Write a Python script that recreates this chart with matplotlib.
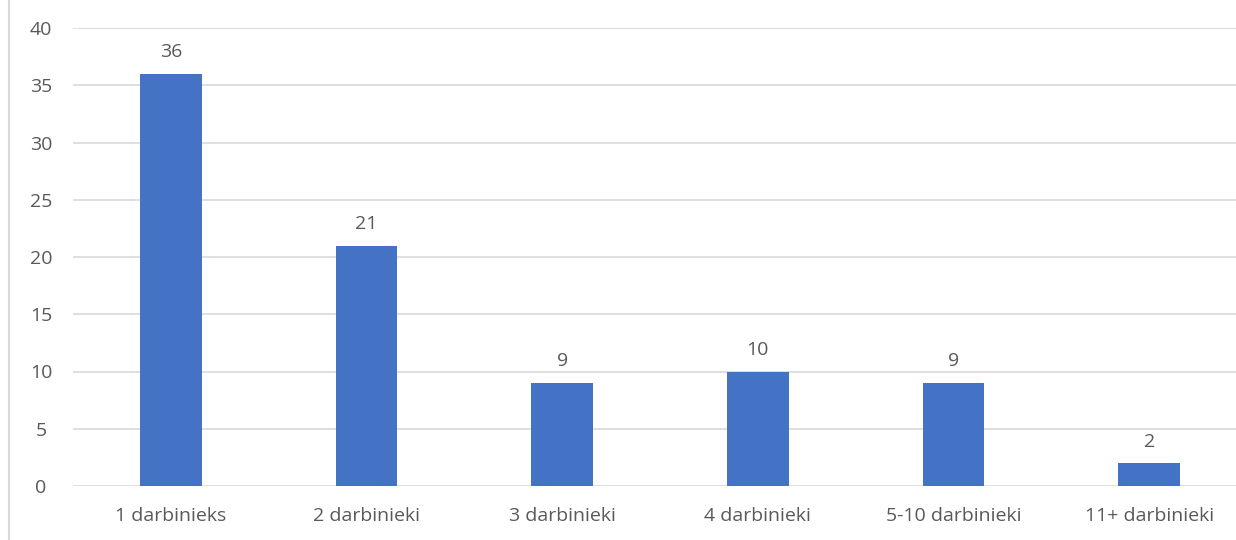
import numpy as np
import matplotlib.pyplot as plt
from matplotlib.lines import Line2D

categories = ['1 darbinieks', '2 darbinieki', '3 darbinieki', '4 darbinieki', '5-10 darbinieki', '11+ darbinieki']
values = [36, 21, 9, 10, 9, 2]
y_ticks = [0, 5, 10, 15, 20, 25, 30, 35, 40]

plt.rcParams['font.family'] = ['Open Sans', 'DejaVu Sans']
text_color = '#595959'

fig = plt.figure(figsize=(12.36, 5.40), dpi=100)
ax = fig.add_axes([73 / 1236, 54 / 540, (1247 - 73) / 1236, (486 - 28) / 540])

x = np.arange(len(categories))
bars = ax.bar(x, values, width=0.316, color='#4472C4', zorder=3)
for b, v in zip(bars, values):
    ax.text(b.get_x() + b.get_width() / 2, v + 1.1, str(v), ha='center', va='bottom',
            fontsize=14, color=text_color)

ax.set_xlim(-0.5, len(categories) - 0.5)
ax.set_ylim(0, 40)
ax.set_yticks(y_ticks)
ax.set_xticks(x)
ax.set_xticklabels(categories)
ax.tick_params(axis='both', length=0, labelsize=14, colors=text_color)
ax.tick_params(axis='y', pad=23)
ax.tick_params(axis='x', pad=15)
for lbl in ax.get_yticklabels():
    lbl.set_horizontalalignment('center')
ax.grid(axis='y', color='#D9D9D9', linewidth=1.2, zorder=0)
for s in ax.spines.values():
    s.set_visible(False)

# left edge of the chart frame
fig.lines.append(Line2D([9 / 1236, 9 / 1236], [0, 1], transform=fig.transFigure,
                        color='#D9D9D9', linewidth=1.5))

fig.savefig('out.png', dpi=100)
